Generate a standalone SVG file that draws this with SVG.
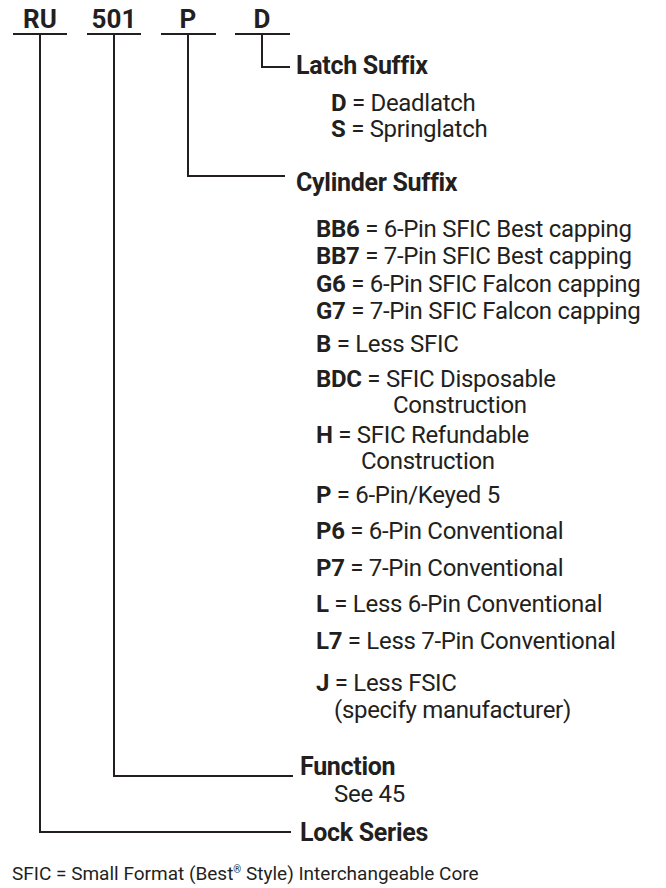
<svg xmlns="http://www.w3.org/2000/svg" width="666" height="888" viewBox="0 0 666 888">
<style>
text{font-family:Roboto,"Liberation Sans",sans-serif;fill:#231f20}
.code{font-size:26px;font-weight:700;text-anchor:middle}
.head{font-size:25px;font-weight:700;letter-spacing:-0.3px}
.item{font-size:24px;letter-spacing:-0.3px}
.item tspan.b{font-weight:700}
.foot{font-size:19px}
.ln{stroke:#231f20;stroke-width:2;fill:none}
</style>
<rect width="666" height="888" fill="#fff"/>
<g id="codes">
<text class="code" x="40" y="28">RU</text>
<text class="code" x="114" y="28">501</text>
<text class="code" x="188" y="28">P</text>
<text class="code" x="262" y="28">D</text>
</g>
<g id="connectors">
<path class="ln" d="M13 34H67M87 34H141M161 34H216M235 34H290"/>
<path class="ln" d="M262 34V67H290"/>
<path class="ln" d="M188 34V176H285"/>
<path class="ln" d="M114 34V776H293"/>
<path class="ln" d="M40 34V832H291"/>
</g>
<g id="latch">
<text class="head" x="296" y="74">Latch Suffix</text>
<text class="item" x="331" y="111"><tspan class="b">D</tspan> = Deadlatch</text>
<text class="item" x="331" y="137"><tspan class="b">S</tspan> = Springlatch</text>
</g>
<g id="cylinder">
<text class="head" x="296" y="191">Cylinder Suffix</text>
<text class="item" x="316" y="237"><tspan class="b">BB6</tspan> = 6-Pin SFIC Best capping</text>
<text class="item" x="316" y="264"><tspan class="b">BB7</tspan> = 7-Pin SFIC Best capping</text>
<text class="item" x="316" y="292"><tspan class="b">G6</tspan> = 6-Pin SFIC Falcon capping</text>
<text class="item" x="316" y="319"><tspan class="b">G7</tspan> = 7-Pin SFIC Falcon capping</text>
<text class="item" x="316" y="352"><tspan class="b">B</tspan> = Less SFIC</text>
<text class="item" x="316" y="387"><tspan class="b">BDC</tspan> = SFIC Disposable</text>
<text class="item" x="393" y="413">Construction</text>
<text class="item" x="316" y="443"><tspan class="b">H</tspan> = SFIC Refundable</text>
<text class="item" x="361" y="469">Construction</text>
<text class="item" x="316" y="503"><tspan class="b">P</tspan> = 6-Pin/Keyed 5</text>
<text class="item" x="316" y="539"><tspan class="b">P6</tspan> = 6-Pin Conventional</text>
<text class="item" x="316" y="576"><tspan class="b">P7</tspan> = 7-Pin Conventional</text>
<text class="item" x="316" y="612"><tspan class="b">L</tspan> = Less 6-Pin Conventional</text>
<text class="item" x="316" y="649"><tspan class="b">L7</tspan> = Less 7-Pin Conventional</text>
<text class="item" x="316" y="691"><tspan class="b">J</tspan> = Less FSIC</text>
<text class="item" x="334" y="718">(specify manufacturer)</text>
</g>
<g id="function">
<text class="head" x="300" y="775">Function</text>
<text class="item" x="334" y="802">See 45</text>
</g>
<g id="series">
<text class="head" x="300" y="841">Lock Series</text>
</g>
<g id="footnote">
<text class="foot" x="12" y="880">SFIC = Small Format (Best<tspan font-size="10" dy="-7">®</tspan><tspan dy="7"> Style) Interchangeable Core</tspan></text>
</g>
</svg>
